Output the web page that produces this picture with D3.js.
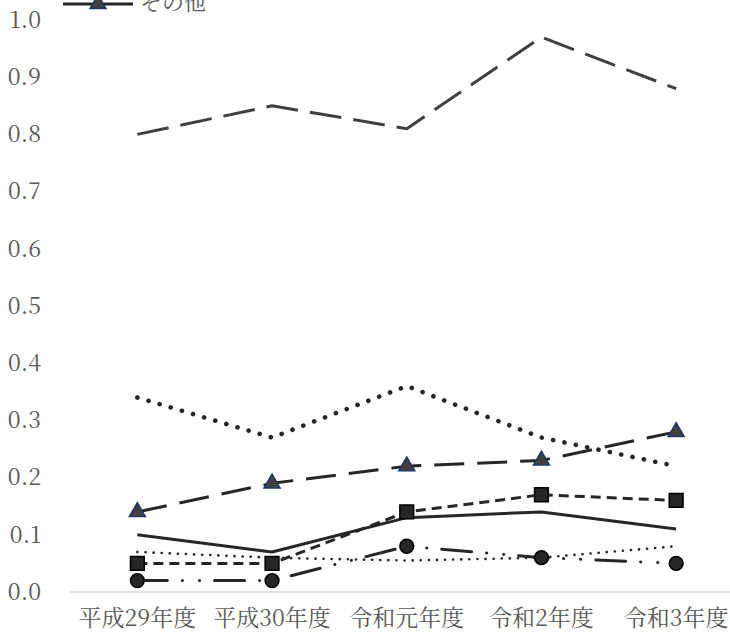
<!DOCTYPE html>
<html lang="ja">
<head>
  <meta charset="UTF-8">
  <title>Line chart</title>
  <script src="https://d3js.org/d3.v7.min.js"></script>
  <style>
    body { margin: 0; background: white; }
    svg { display: block; }
  </style>
</head>
<body>
<svg id="chart"></svg>
<script>
// categories and values
const years = ["平成29年度", "平成30年度", "令和元年度", "令和2年度", "令和3年度"];
const yTicks = [0, 0.1, 0.2, 0.3, 0.4, 0.5, 0.6, 0.7, 0.8, 0.9, 1.0];

const longDashVals   = [0.80, 0.85, 0.81, 0.97, 0.88];
const bigDotVals     = [0.34, 0.27, 0.36, 0.27, 0.22];
const otherVals      = [0.14, 0.19, 0.22, 0.23, 0.28];   // その他
const solidVals      = [0.10, 0.07, 0.13, 0.14, 0.11];
const squareVals     = [0.05, 0.05, 0.14, 0.17, 0.16];
const smallDotVals   = [0.07, 0.06, 0.055, 0.06, 0.08];
const circleVals     = [0.02, 0.02, 0.08, 0.06, 0.05];

const width = 730, height = 635;
const serif = "'Noto Serif CJK JP', 'DejaVu Serif', serif";
const svg = d3.select("#chart").attr("width", width).attr("height", height);

const x = d3.scaleBand().domain(years).range([70, 743.5]);
const y = d3.scaleLinear().domain([0, 1]).range([592, 20]);
const cx = d => x(d) + x.bandwidth() / 2;

// axes (text only)
const yAxis = svg.append("g")
  .attr("transform", "translate(70,0)")
  .call(d3.axisLeft(y).tickValues(yTicks).tickFormat(d3.format(".1f")).tickSize(0).tickPadding(29));
yAxis.select(".domain").remove();

const xAxis = svg.append("g")
  .attr("transform", "translate(0,592)")
  .call(d3.axisBottom(x).tickSize(0).tickPadding(18));
xAxis.select(".domain").remove();

svg.selectAll(".tick text")
  .style("font-family", serif)
  .style("font-size", "23px")
  .attr("fill", "#595959");

// baseline
svg.append("line")
  .attr("x1", 70).attr("x2", width)
  .attr("y1", y(0)).attr("y2", y(0))
  .attr("stroke", "#d9d9d9").attr("stroke-width", 1.5);

// series: style per line
const series = [
  { vals: smallDotVals, color: "#262626", w: 2.6, dash: "0.1 8", cap: "round" },
  { vals: circleVals,   color: "#262626", w: 3,   dash: "30 15 0.1 17 0.1 15", cap: "round", marker: d3.symbolCircle, size: 150 },
  { vals: solidVals,    color: "#262626", w: 3,   dash: null, cap: "butt" },
  { vals: squareVals,   color: "#262626", w: 3,   dash: "10 6", cap: "butt", marker: d3.symbolSquare, size: 190 },
  { vals: otherVals,    color: "#262626", w: 3,   dash: "30 13", cap: "butt", marker: d3.symbolTriangle, size: 110, tri: true },
  { vals: bigDotVals,   color: "#262626", w: 4.6, dash: "0.1 11.5", cap: "round" },
  { vals: longDashVals, color: "#404040", w: 3,   dash: "32 12", cap: "butt" }
];

const line = d3.line().x((d, i) => cx(years[i])).y(d => y(d));

series.forEach(s => {
  svg.append("path")
    .attr("d", line(s.vals))
    .attr("fill", "none")
    .attr("stroke", s.color)
    .attr("stroke-width", s.w)
    .attr("stroke-dasharray", s.dash)
    .attr("stroke-linecap", s.cap)
    .attr("stroke-linejoin", "round");
});

// markers on top
series.filter(s => s.marker).forEach(s => {
  svg.append("g").selectAll("path")
    .data(s.vals)
    .join("path")
    .attr("d", d3.symbol().type(s.marker).size(s.size))
    .attr("transform", (d, i) => `translate(${cx(years[i])},${y(d)})`)
    .attr("fill", s.tri ? "#404040" : "#262626")
    .attr("stroke", s.tri ? "#203864" : "#000")
    .attr("stroke-width", 1.5);
});

// legend (only the last row is visible)
const legend = svg.append("g");
legend.append("line")
  .attr("x1", 63).attr("x2", 133).attr("y1", 4).attr("y2", 4)
  .attr("stroke", "#262626").attr("stroke-width", 3);
legend.append("path")
  .attr("d", d3.symbol().type(d3.symbolTriangle).size(110))
  .attr("transform", "translate(98,4)")
  .attr("fill", "#404040").attr("stroke", "#203864").attr("stroke-width", 1.5);
legend.append("text").attr("x", 140).attr("y", 10)
  .style("font-family", serif)
  .style("font-size", "22px")
  .attr("fill", "#595959")
  .text("その他");
</script>
</body>
</html>
